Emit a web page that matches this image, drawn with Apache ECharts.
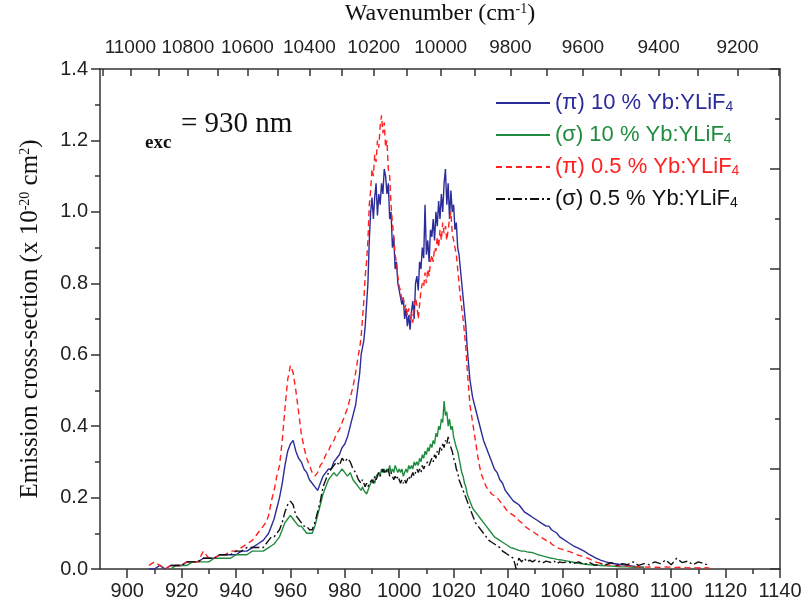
<!DOCTYPE html>
<html><head><meta charset="utf-8">
<script src="https://cdn.jsdelivr.net/npm/echarts@6/dist/echarts.min.js"></script>
<style>html,body{margin:0;padding:0;background:#fff}#c{width:803px;height:613px}</style>
</head><body><div id="c"></div>
<script>
// Wavelength grid (nm)
const wavelength = [
 908,910,912,914,916,918,920,922,924,926,928,930,932,934,936,938,940,942,944,946,948,950,
 951,952,953,954,955,956,957,958,959,960,961,962,963,964,965,966,967,968,969,970,971,972,973,974,975,976,977,978,979,980,981,982,983,984,985,
 985.5,986,986.5,987,987.5,988,988.5,989,989.5,990,
 990.5,991,991.5,992,992.5,993,993.5,994,994.5,995,
 995.5,996,996.5,997,997.5,998,998.5,999,999.5,1000,
 1000.5,1001,1001.5,1002,1002.5,1003,1003.5,1004,1004.5,1005,
 1005.5,1006,1006.5,1007,1007.5,1008,1008.5,1009,1009.5,1010,
 1010.5,1011,1011.5,1012,1012.5,1013,1013.5,1014,1014.5,1015,
 1015.5,1016,1016.5,1017,1017.5,1018,1018.5,1019,1019.5,1020,
 1020.5,1021,1021.5,1022,1022.5,1023,1023.5,1024,1024.5,1025,
 1026,1027,1028,1029,1030,1031,1032,1033,1034,1035,1036,1037,1038,1039,1040,1041,1042,1043,1044,1045,1046,1047,1048,1049,1050,1051,1052,1053,1054,1055,1056,1057,1058,1059,1060,
 1062,1064,1066,1068,1070,1072,1074,1076,1078,1080,1082,1084,1086,1088,1090,1092,1094,1096,1098,1100,1102,1104,1106,1108,1110,1112,1114,1116
];
// (π) 10 % Yb:YLiF4
const piHigh = [
 0.00,0.00,0.01,0.00,0.01,0.01,0.01,0.02,0.02,0.02,0.03,0.03,0.03,0.04,0.04,0.04,0.04,0.05,0.05,0.06,0.07,0.08,
 0.09,0.10,0.12,0.14,0.17,0.20,0.24,0.29,0.33,0.35, 0.36,0.33,0.31,0.30,0.28,0.27,0.25,0.24,0.23,0.22, 0.24,0.26,0.27,0.28,0.28,0.30,0.31,0.32,0.34,0.35, 0.37,0.40,0.43,0.46,0.52,
 0.55,0.60,0.62,0.64,0.68,0.74,0.80,0.92,1.00,1.04,
 0.98,1.04,1.08,0.99,1.05,1.02,1.08,1.05,1.12,1.10,
 1.05,1.08,0.98,1.00,0.90,0.93,0.84,0.86,0.80,0.78,
 0.76,0.74,0.76,0.70,0.73,0.68,0.71,0.67,0.72,0.75,
 0.70,0.80,0.82,0.78,0.86,0.84,0.90,0.87,1.02,0.88,
 0.92,0.86,0.95,0.93,0.98,0.92,1.00,0.96,1.03,0.98,
 1.05,1.00,1.08,1.12,1.02,1.08,0.98,1.06,1.00,1.02,
 0.95,0.97,0.90,0.88,0.84,0.80,0.76,0.72,0.68,0.62,
 0.53,0.48,0.45,0.42,0.39,0.36,0.34,0.32,0.30,0.28, 0.27,0.25,0.24,0.22,0.21,0.20,0.19,0.185,0.18,0.17, 0.16,0.155,0.15,0.145,0.14,0.135,0.13,0.125,0.12,0.12, 0.11,0.105,0.10,0.09,0.085,
 0.075,0.065,0.058,0.05,0.04,0.032,0.025,0.02,0.016,0.014,0.012,0.01,0.008,0.006,0.005,null,null,null,null,null,null,null,null,null,null,null,null,null
];
// (σ) 10 % Yb:YLiF4
const sigmaHigh = [
 null,null,null,null,0.00,0.01,0.01,0.01,0.02,0.02,0.02,0.02,0.03,0.03,0.03,0.03,0.04,0.04,0.04,0.05,0.05,0.05,
 0.055,0.06,0.065,0.07,0.08,0.09,0.11,0.13,0.14,0.15, 0.14,0.13,0.12,0.12,0.11,0.10,0.10,0.10,0.12,0.15, 0.18,0.21,0.23,0.25,0.26,0.27,0.26,0.27,0.28,0.27, 0.26,0.27,0.25,0.24,0.23,
 0.23,0.22,0.23,0.22,0.22,0.21,0.22,0.23,0.24,0.24,
 0.25,0.24,0.26,0.26,0.27,0.26,0.28,0.27,0.28,0.27,
 0.28,0.27,0.29,0.27,0.28,0.27,0.29,0.28,0.27,0.28,
 0.27,0.28,0.26,0.27,0.28,0.27,0.29,0.28,0.29,0.28,
 0.30,0.29,0.30,0.29,0.31,0.30,0.32,0.31,0.33,0.32,
 0.34,0.33,0.35,0.34,0.36,0.35,0.38,0.37,0.40,0.39,
 0.42,0.41,0.47,0.43,0.44,0.40,0.42,0.39,0.40,0.37,
 0.37,0.34,0.33,0.31,0.29,0.27,0.26,0.24,0.23,0.21,
 0.19,0.17,0.16,0.15,0.14,0.13,0.12,0.11,0.10,0.09, 0.085,0.08,0.075,0.07,0.065,0.06,0.058,0.055,0.052,0.05, 0.05,0.048,0.047,0.046,0.043,0.04,0.038,0.036,0.034,0.032, 0.03,0.029,0.027,0.026,0.025,
 0.022,0.019,0.016,0.014,0.012,0.011,0.01,0.009,0.008,0.007,0.006,0.006,0.005,0.005,0.004,null,null,null,null,null,null,null,null,null,null,null,null,null
];
// (π) 0.5 % Yb:YLiF4
const piLow = [
 0.01,0.02,0.01,0.00,0.01,0.01,0.01,0.02,0.02,0.02,0.05,0.03,0.03,0.04,0.04,0.05,0.05,0.06,0.07,0.08,0.10,0.12,
 0.13,0.15,0.19,0.22,0.26,0.29,0.36,0.45,0.53,0.57, 0.55,0.50,0.44,0.38,0.34,0.31,0.29,0.27,0.26,0.27, 0.29,0.30,0.32,0.33,0.35,0.36,0.38,0.39,0.41,0.43, 0.45,0.48,0.51,0.55,0.60,
 0.62,0.65,0.70,0.75,0.82,0.86,0.92,1.02,1.06,1.12,
 1.10,1.16,1.14,1.20,1.18,1.24,1.27,1.22,1.25,1.18,
 1.20,1.12,1.10,1.02,0.97,0.93,0.88,0.86,0.82,0.79,
 0.78,0.75,0.76,0.73,0.74,0.71,0.73,0.70,0.72,0.69,
 0.73,0.76,0.74,0.70,0.74,0.78,0.80,0.79,0.83,0.80,
 0.84,0.82,0.86,0.88,0.86,0.90,0.89,0.93,0.90,0.95,
 0.92,0.97,0.94,0.96,0.92,0.95,0.98,1.00,0.94,0.92,
 0.90,0.88,0.84,0.80,0.76,0.73,0.70,0.66,0.62,0.56,
 0.46,0.41,0.36,0.31,0.27,0.25,0.23,0.22,0.21,0.205, 0.20,0.19,0.18,0.17,0.16,0.155,0.15,0.145,0.135,0.13, 0.12,0.115,0.11,0.105,0.10,0.095,0.09,0.085,0.08,0.08, 0.07,0.065,0.06,0.057,0.055,
 0.05,0.045,0.038,0.034,0.028,0.02,0.016,0.012,0.01,0.01,0.008,0.008,0.006,0.007,0.005,0.006,0.005,0.004,0.006,0.005,0.004,0.005,0.003,0.004,0.003,0.004,0.003,null
];
// (σ) 0.5 % Yb:YLiF4
const sigmaLow = [
 null,null,null,null,0.01,0.01,0.01,0.02,0.02,0.02,0.03,0.03,0.03,0.04,0.04,0.04,0.05,0.05,0.06,0.06,0.06,0.06,
 0.07,0.08,0.09,0.09,0.10,0.11,0.13,0.16,0.18,0.19, 0.18,0.15,0.14,0.13,0.12,0.12,0.11,0.11,0.13,0.16, 0.19,0.23,0.25,0.27,0.28,0.29,0.30,0.29,0.31,0.30, 0.31,0.30,0.28,0.27,0.25,
 0.25,0.24,0.25,0.24,0.23,0.24,0.23,0.24,0.24,0.25,
 0.24,0.26,0.25,0.26,0.27,0.26,0.27,0.28,0.27,0.28,
 0.27,0.28,0.26,0.27,0.26,0.25,0.26,0.25,0.26,0.25,
 0.24,0.25,0.24,0.25,0.24,0.25,0.26,0.25,0.26,0.27,
 0.26,0.27,0.28,0.27,0.28,0.27,0.29,0.28,0.29,0.29,
 0.30,0.29,0.30,0.31,0.30,0.32,0.31,0.33,0.32,0.34,
 0.33,0.35,0.34,0.36,0.35,0.37,0.35,0.34,0.33,0.31,
 0.30,0.28,0.27,0.25,0.24,0.23,0.22,0.21,0.20,0.19,
 0.17,0.15,0.13,0.12,0.11,0.10,0.09,0.08,0.075,0.07, 0.065,0.06,0.05,0.045,0.04,0.035,0.03,0.00,0.03,0.02, 0.03,0.02,0.025,0.02,0.025,0.02,0.022,0.018,0.022,0.02, 0.018,0.022,0.015,0.02,0.018,
 0.02,0.015,0.02,0.012,0.018,0.01,0.015,0.012,0.018,0.01,0.015,0.012,0.02,0.01,0.015,0.012,0.02,0.015,0.025,0.012,0.03,0.018,0.022,0.012,0.02,0.015,0.01,null
];

const seriesNames = ['(π) 10 % Yb:YLiF4', '(σ) 10 % Yb:YLiF4', '(π) 0.5 % Yb:YLiF4', '(σ) 0.5 % Yb:YLiF4'];
const seriesValues = [piHigh, sigmaHigh, piLow, sigmaLow];
const seriesColors = ['#2b2b9a', '#1f8c3f', '#ff2020', '#111111'];
const seriesDash = ['solid', 'solid', [6, 4], [9, 3, 2, 3]];

const xTickLabels = [900,920,940,960,980,1000,1020,1040,1060,1080,1100,1120,1140];
const xMinorTicks = [910,930,950,970,990,1010,1030,1050,1070,1090,1110,1130];
const topWavenumberLabels = [11000,10800,10600,10400,10200,10000,9800,9600,9400,9200];
const topWavenumberTicks = [11100,11000,10900,10800,10700,10600,10500,10400,10300,10200,10100,10000,9900,9800,9700,9600,9500,9400,9300,9200,9100];

const SANS = 'Liberation Sans';
const SERIF = 'Liberation Serif';
const axisLineStyle = { color: '#333', width: 1.5 };

function toPairs(vals) {
  return wavelength.map((w, i) => [w, vals[i]]).filter(p => p[1] !== null);
}

const chart = echarts.init(document.getElementById('c'), null, { renderer: 'canvas' });
chart.setOption({
  animation: false,
  backgroundColor: '#fff',
  grid: { left: 100, right: 23, top: 69, bottom: 44, outerBoundsMode: 'none', containLabel: false },
  legend: {
    orient: 'vertical', left: 490, top: 87,
    itemWidth: 54, itemHeight: 14, itemGap: 10,
    itemStyle: { opacity: 0 },
    textStyle: { fontFamily: SANS, fontSize: 22 },
    formatter: n => n.slice(0, -1) + '{sub|' + n.slice(-1) + '}',
    data: seriesNames.map((n, i) => ({
      name: n,
      textStyle: { color: seriesColors[i], fontFamily: SANS, fontSize: 22,
        rich: { sub: { color: seriesColors[i], fontFamily: SANS, fontSize: 14, verticalAlign: 'bottom' } } }
    }))
  },
  graphic: [
    { type: 'text', left: 145, top: 134, style: { text: 'exc', fontFamily: SERIF, fontSize: 19, fontWeight: 'bold', fill: '#111' } },
    { type: 'text', left: 181, top: 110, style: { text: '= 930 nm', fontFamily: SERIF, fontSize: 29, fill: '#111' } }
  ],
  xAxis: [
    {
      type: 'value', position: 'bottom', min: 890, max: 1140,
      axisLine: { show: true, onZero: false, lineStyle: axisLineStyle },
      axisTick: { show: true, customValues: xTickLabels, length: 9, lineStyle: axisLineStyle },
      axisLabel: { customValues: xTickLabels, formatter: v => String(v), fontFamily: SANS, fontSize: 20, color: '#222', margin: 12 },
      splitLine: { show: false }
    },
    {
      type: 'value', position: 'bottom', min: 890, max: 1140,
      axisLine: { show: false, onZero: false },
      axisTick: { show: true, customValues: xMinorTicks, length: 5, lineStyle: axisLineStyle },
      axisLabel: { show: false },
      splitLine: { show: false }
    },
    {
      type: 'value', position: 'top', min: 900.2, max: 1099.4,
      name: 'Wavenumber (cm{sup|-1})', nameLocation: 'middle', nameGap: 43,
      nameTextStyle: { fontFamily: SERIF, fontSize: 24, color: '#111',
        rich: { sup: { fontFamily: SERIF, fontSize: 14, color: '#111', verticalAlign: 'top' } } },
      axisLine: { show: true, onZero: false, lineStyle: axisLineStyle },
      axisTick: { show: true, inside: true, length: 7, customValues: topWavenumberTicks.map(n => 1e7 / n), lineStyle: axisLineStyle },
      axisLabel: { customValues: topWavenumberLabels.map(n => 1e7 / n), formatter: v => String(Math.round(1e7 / v / 100) * 100),
        fontFamily: SANS, fontSize: 19, color: '#222', margin: 12 },
      splitLine: { show: false }
    }
  ],
  yAxis: [
    {
      type: 'value', position: 'left', min: 0, max: 1.4, interval: 0.2,
      name: 'Emission cross-section (x 10{sup|-20} cm{sup|2})', nameLocation: 'middle', nameGap: 57, nameRotate: 90,
      nameTextStyle: { fontFamily: SERIF, fontSize: 25, color: '#111',
        rich: { sup: { fontFamily: SERIF, fontSize: 14, color: '#111', verticalAlign: 'top' } } },
      axisLine: { show: true, onZero: false, lineStyle: axisLineStyle },
      axisTick: { show: true, length: 9, lineStyle: axisLineStyle },
      minorTick: { show: true, splitNumber: 2, length: 5, lineStyle: axisLineStyle },
      axisLabel: { formatter: v => v.toFixed(1), fontFamily: SANS, fontSize: 20, color: '#222', margin: 12 },
      splitLine: { show: false }, minorSplitLine: { show: false }
    },
    {
      type: 'value', position: 'right', min: 0, max: 10, interval: 2,
      axisLine: { show: true, onZero: false, lineStyle: axisLineStyle },
      axisTick: { show: true, inside: true, length: 10, lineStyle: axisLineStyle },
      minorTick: { show: true, splitNumber: 2, length: 5, lineStyle: axisLineStyle },
      axisLabel: { show: false },
      splitLine: { show: false }, minorSplitLine: { show: false }
    }
  ],
  series: seriesNames.map((n, i) => ({
    name: n, type: 'line', xAxisIndex: 0, yAxisIndex: 0,
    symbol: 'none', showSymbol: false, smooth: false,
    lineStyle: { color: seriesColors[i], width: 1.4, type: seriesDash[i] },
    itemStyle: { color: seriesColors[i] },
    data: toPairs(seriesValues[i])
  }))
});
</script></body></html>
